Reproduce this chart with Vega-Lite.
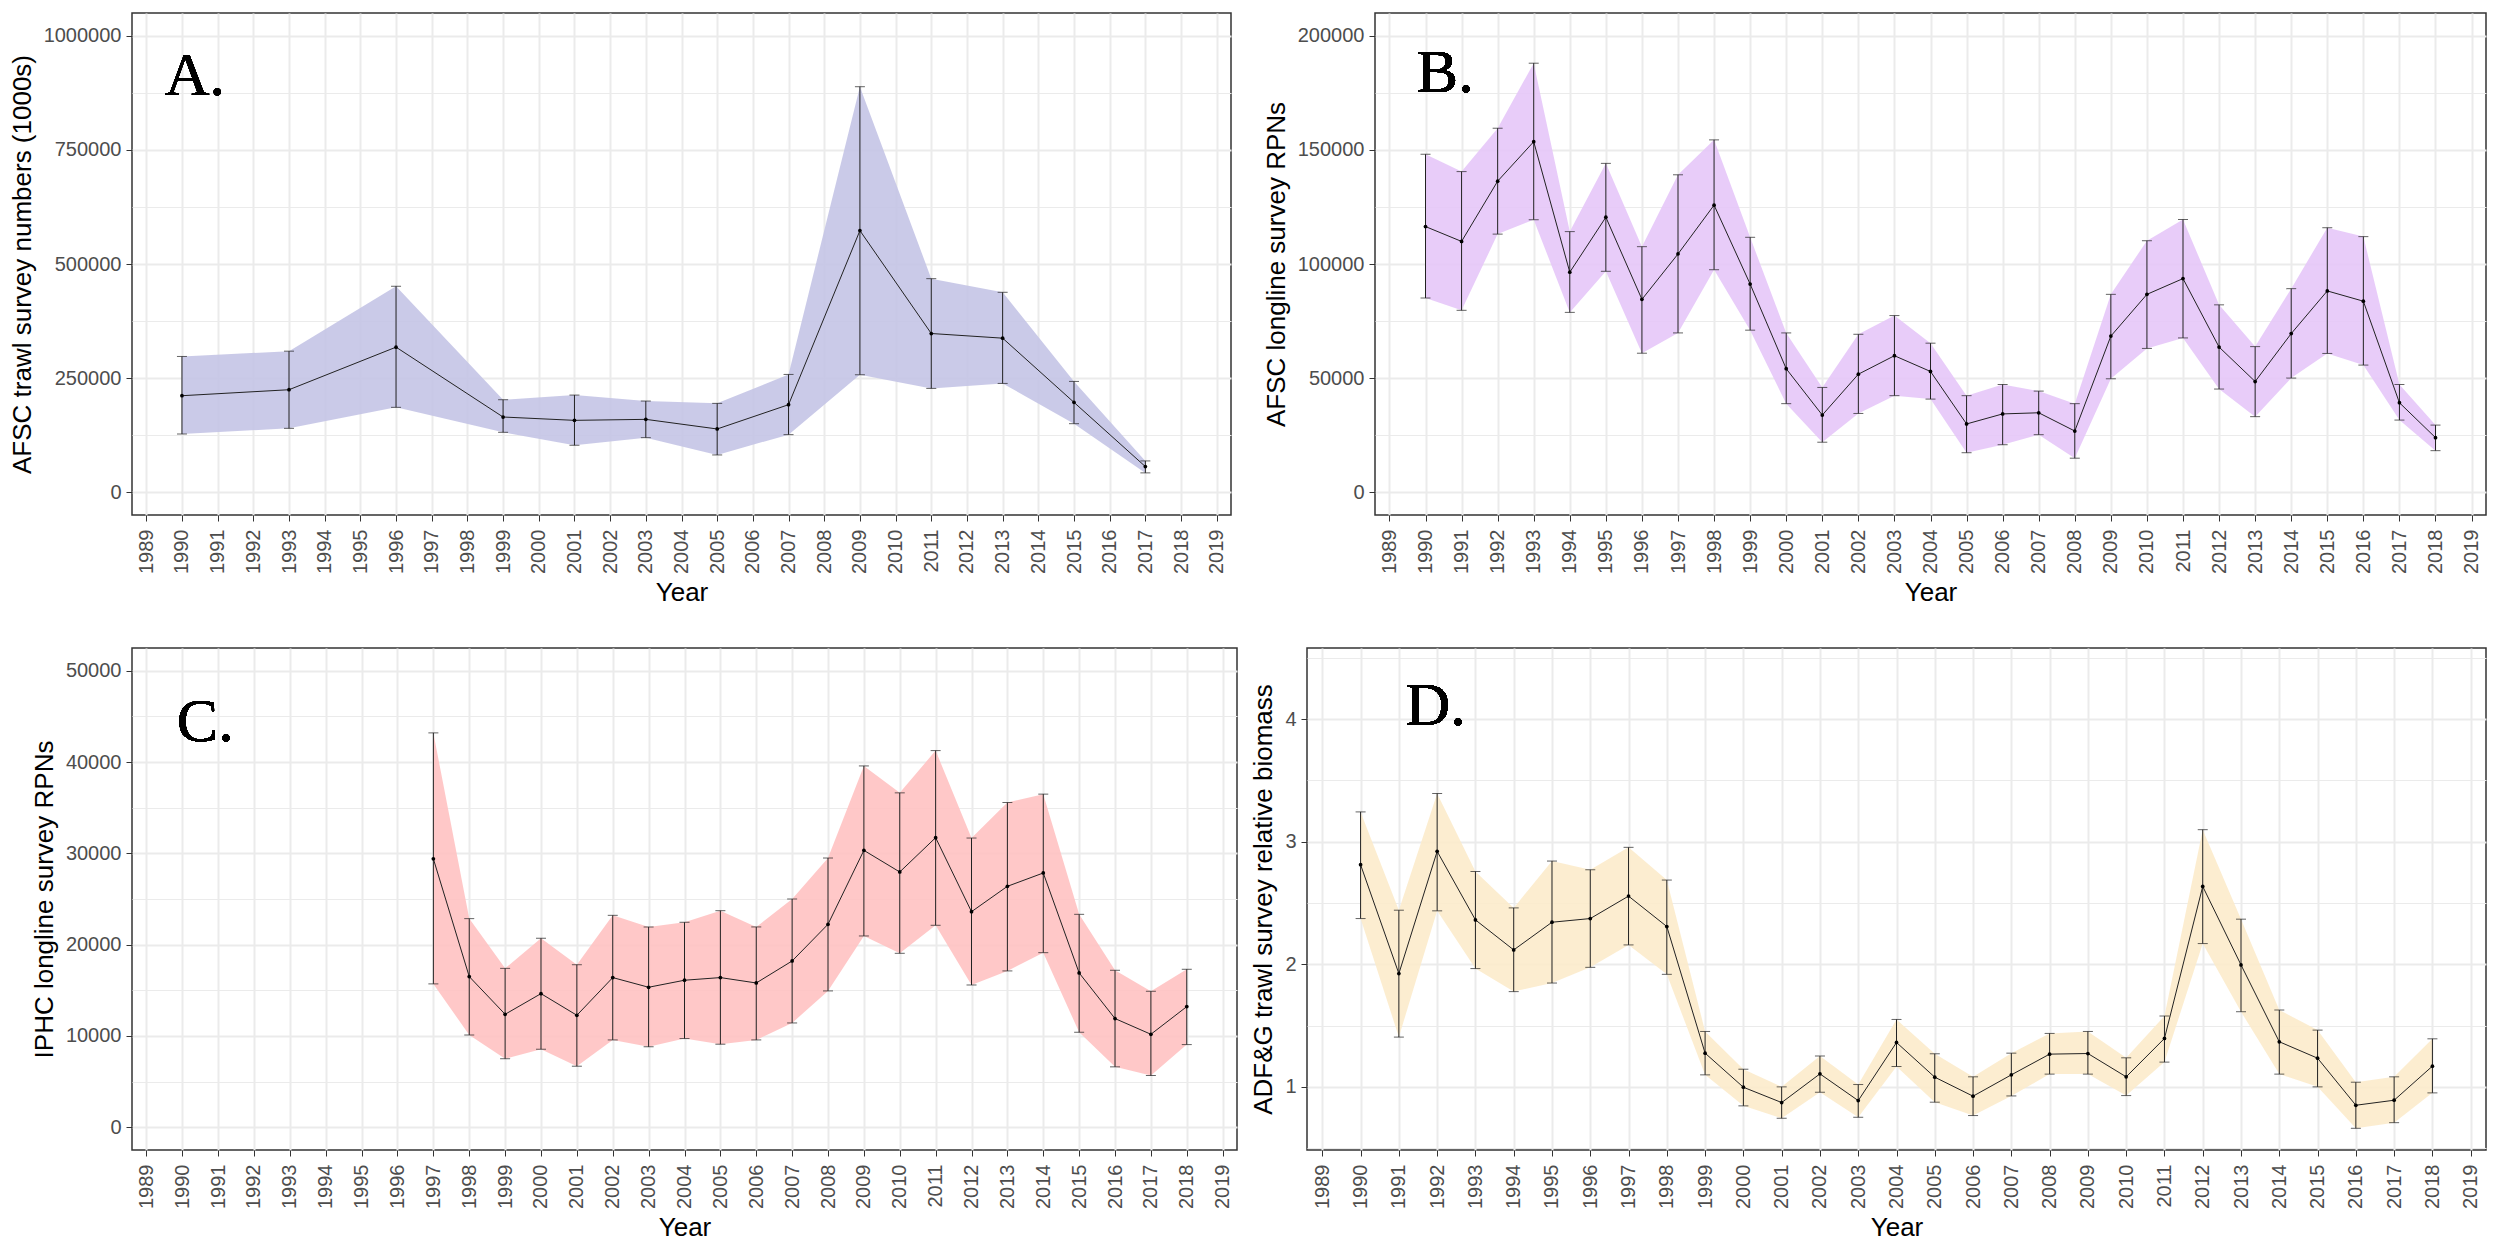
{
  "$schema": "https://vega.github.io/schema/vega-lite/v6.json",
  "background": "white",
  "padding": {"left": 8, "top": 12, "right": 5, "bottom": 5},
  "config": {
    "font": "Liberation Sans",
    "view": {"stroke": "#333333", "strokeWidth": 1.5},
    "axis": {"domain": false, "gridColor": "#EBEBEB", "tickColor": "#333333", "labelColor": "#4D4D4D", "labelFontSize": 20, "titleFontSize": 26, "titleFontWeight": "normal", "titleColor": "black", "tickSize": 6, "labelFont": "Liberation Sans", "titleFont": "Liberation Sans", "labelOverlap": false},
    "axisX": {"labelAngle": 270, "labelPadding": 8, "titlePadding": 6},
    "axisY": {"labelPadding": 5, "titlePadding": 8}
  },
  "datasets": {
    "d": [
      {"panel": "A", "year": 1990, "value": 211400, "lower": 127500, "upper": 297400},
      {"panel": "A", "year": 1993, "value": 224500, "lower": 139900, "upper": 309000},
      {"panel": "A", "year": 1996, "value": 317800, "lower": 185900, "upper": 451200},
      {"panel": "A", "year": 1999, "value": 164700, "lower": 131200, "upper": 202600},
      {"panel": "A", "year": 2001, "value": 157400, "lower": 102800, "upper": 212800},
      {"panel": "A", "year": 2003, "value": 159600, "lower": 119500, "upper": 199700},
      {"panel": "A", "year": 2005, "value": 138500, "lower": 81600, "upper": 194600},
      {"panel": "A", "year": 2007, "value": 191700, "lower": 126100, "upper": 258000},
      {"panel": "A", "year": 2009, "value": 573200, "lower": 257300, "upper": 888500},
      {"panel": "A", "year": 2011, "value": 347700, "lower": 227400, "upper": 467900},
      {"panel": "A", "year": 2013, "value": 337500, "lower": 238300, "upper": 438000},
      {"panel": "A", "year": 2015, "value": 196800, "lower": 150100, "upper": 242700},
      {"panel": "A", "year": 2017, "value": 56100, "lower": 42300, "upper": 68500},

      {"panel": "B", "year": 1990, "value": 116400, "lower": 85100, "upper": 148100},
      {"panel": "B", "year": 1991, "value": 109900, "lower": 79700, "upper": 140500},
      {"panel": "B", "year": 1992, "value": 136300, "lower": 113100, "upper": 159500},
      {"panel": "B", "year": 1993, "value": 153600, "lower": 119400, "upper": 188000},
      {"panel": "B", "year": 1994, "value": 96400, "lower": 78800, "upper": 114200},
      {"panel": "B", "year": 1995, "value": 120500, "lower": 96800, "upper": 144100},
      {"panel": "B", "year": 1996, "value": 84500, "lower": 60900, "upper": 107600},
      {"panel": "B", "year": 1997, "value": 104400, "lower": 69800, "upper": 139100},
      {"panel": "B", "year": 1998, "value": 125800, "lower": 97500, "upper": 154400},
      {"panel": "B", "year": 1999, "value": 91200, "lower": 71000, "upper": 111700},
      {"panel": "B", "year": 2000, "value": 54100, "lower": 38800, "upper": 69800},
      {"panel": "B", "year": 2001, "value": 33800, "lower": 21900, "upper": 45900},
      {"panel": "B", "year": 2002, "value": 51700, "lower": 34500, "upper": 69200},
      {"panel": "B", "year": 2003, "value": 59800, "lower": 42300, "upper": 77400},
      {"panel": "B", "year": 2004, "value": 52900, "lower": 40800, "upper": 65300},
      {"panel": "B", "year": 2005, "value": 29900, "lower": 17300, "upper": 42300},
      {"panel": "B", "year": 2006, "value": 34300, "lower": 20800, "upper": 47200},
      {"panel": "B", "year": 2007, "value": 34800, "lower": 25200, "upper": 44300},
      {"panel": "B", "year": 2008, "value": 26800, "lower": 14900, "upper": 38800},
      {"panel": "B", "year": 2009, "value": 68400, "lower": 49700, "upper": 86700},
      {"panel": "B", "year": 2010, "value": 86700, "lower": 63000, "upper": 110200},
      {"panel": "B", "year": 2011, "value": 93600, "lower": 67600, "upper": 119500},
      {"panel": "B", "year": 2012, "value": 63600, "lower": 45200, "upper": 82100},
      {"panel": "B", "year": 2013, "value": 48500, "lower": 33100, "upper": 63800},
      {"panel": "B", "year": 2014, "value": 69500, "lower": 50000, "upper": 89200},
      {"panel": "B", "year": 2015, "value": 88200, "lower": 60800, "upper": 115900},
      {"panel": "B", "year": 2016, "value": 83700, "lower": 55700, "upper": 112000},
      {"panel": "B", "year": 2017, "value": 39200, "lower": 31600, "upper": 47200},
      {"panel": "B", "year": 2018, "value": 23900, "lower": 18200, "upper": 29400},

      {"panel": "C", "year": 1997, "value": 29400, "lower": 15700, "upper": 43200},
      {"panel": "C", "year": 1998, "value": 16500, "lower": 10100, "upper": 22850},
      {"panel": "C", "year": 1999, "value": 12370, "lower": 7500, "upper": 17400},
      {"panel": "C", "year": 2000, "value": 14630, "lower": 8540, "upper": 20700},
      {"panel": "C", "year": 2001, "value": 12260, "lower": 6680, "upper": 17800},
      {"panel": "C", "year": 2002, "value": 16390, "lower": 9560, "upper": 23210},
      {"panel": "C", "year": 2003, "value": 15330, "lower": 8800, "upper": 21940},
      {"panel": "C", "year": 2004, "value": 16100, "lower": 9710, "upper": 22450},
      {"panel": "C", "year": 2005, "value": 16390, "lower": 9090, "upper": 23720},
      {"panel": "C", "year": 2006, "value": 15800, "lower": 9560, "upper": 21940},
      {"panel": "C", "year": 2007, "value": 18210, "lower": 11420, "upper": 25000},
      {"panel": "C", "year": 2008, "value": 22230, "lower": 14930, "upper": 29490},
      {"panel": "C", "year": 2009, "value": 30330, "lower": 20950, "upper": 39580},
      {"panel": "C", "year": 2010, "value": 27960, "lower": 19050, "upper": 36630},
      {"panel": "C", "year": 2011, "value": 31720, "lower": 22120, "upper": 41260},
      {"panel": "C", "year": 2012, "value": 23610, "lower": 15580, "upper": 31680},
      {"panel": "C", "year": 2013, "value": 26390, "lower": 17120, "upper": 35570},
      {"panel": "C", "year": 2014, "value": 27850, "lower": 19120, "upper": 36490},
      {"panel": "C", "year": 2015, "value": 16900, "lower": 10400, "upper": 23320},
      {"panel": "C", "year": 2016, "value": 11900, "lower": 6610, "upper": 17190},
      {"panel": "C", "year": 2017, "value": 10180, "lower": 5660, "upper": 14890},
      {"panel": "C", "year": 2018, "value": 13210, "lower": 9050, "upper": 17300},

      {"panel": "D", "year": 1990, "value": 2.812, "lower": 2.373, "upper": 3.243},
      {"panel": "D", "year": 1991, "value": 1.924, "lower": 1.406, "upper": 2.441},
      {"panel": "D", "year": 1992, "value": 2.921, "lower": 2.436, "upper": 3.393},
      {"panel": "D", "year": 1993, "value": 2.362, "lower": 1.965, "upper": 2.757},
      {"panel": "D", "year": 1994, "value": 2.117, "lower": 1.777, "upper": 2.46},
      {"panel": "D", "year": 1995, "value": 2.343, "lower": 1.847, "upper": 2.842},
      {"panel": "D", "year": 1996, "value": 2.373, "lower": 1.975, "upper": 2.771},
      {"panel": "D", "year": 1997, "value": 2.556, "lower": 2.158, "upper": 2.954},
      {"panel": "D", "year": 1998, "value": 2.308, "lower": 1.918, "upper": 2.687},
      {"panel": "D", "year": 1999, "value": 1.275, "lower": 1.098, "upper": 1.452},
      {"panel": "D", "year": 2000, "value": 0.997, "lower": 0.845, "upper": 1.144},
      {"panel": "D", "year": 2001, "value": 0.872, "lower": 0.744, "upper": 1.0},
      {"panel": "D", "year": 2002, "value": 1.106, "lower": 0.956, "upper": 1.251},
      {"panel": "D", "year": 2003, "value": 0.888, "lower": 0.752, "upper": 1.019},
      {"panel": "D", "year": 2004, "value": 1.362, "lower": 1.166, "upper": 1.55},
      {"panel": "D", "year": 2005, "value": 1.079, "lower": 0.875, "upper": 1.27},
      {"panel": "D", "year": 2006, "value": 0.924, "lower": 0.766, "upper": 1.082},
      {"panel": "D", "year": 2007, "value": 1.098, "lower": 0.926, "upper": 1.275},
      {"panel": "D", "year": 2008, "value": 1.267, "lower": 1.104, "upper": 1.436},
      {"panel": "D", "year": 2009, "value": 1.272, "lower": 1.104, "upper": 1.452},
      {"panel": "D", "year": 2010, "value": 1.082, "lower": 0.929, "upper": 1.237},
      {"panel": "D", "year": 2011, "value": 1.395, "lower": 1.202, "upper": 1.578},
      {"panel": "D", "year": 2012, "value": 2.635, "lower": 2.169, "upper": 3.098},
      {"panel": "D", "year": 2013, "value": 1.995, "lower": 1.613, "upper": 2.368},
      {"panel": "D", "year": 2014, "value": 1.368, "lower": 1.104, "upper": 1.627},
      {"panel": "D", "year": 2015, "value": 1.234, "lower": 1.0, "upper": 1.463},
      {"panel": "D", "year": 2016, "value": 0.85, "lower": 0.662, "upper": 1.038},
      {"panel": "D", "year": 2017, "value": 0.891, "lower": 0.708, "upper": 1.082},
      {"panel": "D", "year": 2018, "value": 1.169, "lower": 0.951, "upper": 1.392}
    ]
  },
  "spacing": 40,
  "vconcat": [
    {
      "spacing": 30,
      "hconcat": [
        {
          "width": 1099, "height": 502,
          "data": {"name": "d"},
          "transform": [{"filter": "datum.panel === 'A'"}],
          "encoding": {
            "x": {"field": "year", "type": "quantitative", "title": "Year",
              "scale": {"domain": [1988.6, 2019.4], "nice": false, "zero": false},
              "axis": {"format": "d", "values": [1989,1989.5,1990,1990.5,1991,1991.5,1992,1992.5,1993,1993.5,1994,1994.5,1995,1995.5,1996,1996.5,1997,1997.5,1998,1998.5,1999,1999.5,2000,2000.5,2001,2001.5,2002,2002.5,2003,2003.5,2004,2004.5,2005,2005.5,2006,2006.5,2007,2007.5,2008,2008.5,2009,2009.5,2010,2010.5,2011,2011.5,2012,2012.5,2013,2013.5,2014,2014.5,2015,2015.5,2016,2016.5,2017,2017.5,2018,2018.5,2019],
                "labelExpr": "datum.value % 1 === 0 ? datum.label : ''",
                "gridWidth": {"condition": {"test": "datum.value % 1 !== 0", "value": 1}, "value": 2},
                "tickOpacity": {"condition": {"test": "datum.value % 1 !== 0", "value": 0}, "value": 1}}}
          },
          "layer": [
            {"mark": {"type": "area", "color": "#c4c4e6", "opacity": 0.9},
             "encoding": {
               "y": {"field": "lower", "type": "quantitative", "title": "AFSC trawl survey numbers (1000s)",
                 "scale": {"domain": [-50000, 1050000], "nice": false, "zero": false},
                 "axis": {"format": "d", "values": [0,125000,250000,375000,500000,625000,750000,875000,1000000],
                   "labelExpr": "datum.value % 250000 === 0 ? datum.label : ''",
                   "gridWidth": {"condition": {"test": "datum.value % 250000 !== 0", "value": 1}, "value": 2},
                   "tickOpacity": {"condition": {"test": "datum.value % 250000 !== 0", "value": 0}, "value": 1}}},
               "y2": {"field": "upper"}}},
            {"mark": {"type": "errorbar", "color": "#222222", "thickness": 1, "ticks": {"size": 10}},
             "encoding": {"y": {"field": "lower", "type": "quantitative", "title": "AFSC trawl survey numbers (1000s)"}, "y2": {"field": "upper"}}},
            {"mark": {"type": "line", "color": "#222222", "strokeWidth": 1},
             "encoding": {"y": {"field": "value", "type": "quantitative", "title": "AFSC trawl survey numbers (1000s)"}}},
            {"mark": {"type": "point", "filled": true, "color": "black", "size": 14, "opacity": 1},
             "encoding": {"y": {"field": "value", "type": "quantitative", "title": "AFSC trawl survey numbers (1000s)"}}},
            {"mark": {"type": "text", "font": "Liberation Serif", "fontSize": 62, "align": "left", "baseline": "alphabetic", "color": "black"},
             "encoding": {"x": {"datum": 1989.52}, "y": {"datum": 870900}, "text": {"value": "A."}}}
          ]
        },
        {
          "width": 1111, "height": 502,
          "data": {"name": "d"},
          "transform": [{"filter": "datum.panel === 'B'"}],
          "encoding": {
            "x": {"field": "year", "type": "quantitative", "title": "Year",
              "scale": {"domain": [1988.6, 2019.4], "nice": false, "zero": false},
              "axis": {"format": "d", "values": [1989,1989.5,1990,1990.5,1991,1991.5,1992,1992.5,1993,1993.5,1994,1994.5,1995,1995.5,1996,1996.5,1997,1997.5,1998,1998.5,1999,1999.5,2000,2000.5,2001,2001.5,2002,2002.5,2003,2003.5,2004,2004.5,2005,2005.5,2006,2006.5,2007,2007.5,2008,2008.5,2009,2009.5,2010,2010.5,2011,2011.5,2012,2012.5,2013,2013.5,2014,2014.5,2015,2015.5,2016,2016.5,2017,2017.5,2018,2018.5,2019],
                "labelExpr": "datum.value % 1 === 0 ? datum.label : ''",
                "gridWidth": {"condition": {"test": "datum.value % 1 !== 0", "value": 1}, "value": 2},
                "tickOpacity": {"condition": {"test": "datum.value % 1 !== 0", "value": 0}, "value": 1}}}
          },
          "layer": [
            {"mark": {"type": "area", "color": "#e6c6f8", "opacity": 0.9},
             "encoding": {
               "y": {"field": "lower", "type": "quantitative", "title": "AFSC longline survey RPNs",
                 "scale": {"domain": [-10000, 210000], "nice": false, "zero": false},
                 "axis": {"format": "d", "values": [0,25000,50000,75000,100000,125000,150000,175000,200000],
                   "labelExpr": "datum.value % 50000 === 0 ? datum.label : ''",
                   "gridWidth": {"condition": {"test": "datum.value % 50000 !== 0", "value": 1}, "value": 2},
                   "tickOpacity": {"condition": {"test": "datum.value % 50000 !== 0", "value": 0}, "value": 1}}},
               "y2": {"field": "upper"}}},
            {"mark": {"type": "errorbar", "color": "#222222", "thickness": 1, "ticks": {"size": 10}},
             "encoding": {"y": {"field": "lower", "type": "quantitative", "title": "AFSC longline survey RPNs"}, "y2": {"field": "upper"}}},
            {"mark": {"type": "line", "color": "#222222", "strokeWidth": 1},
             "encoding": {"y": {"field": "value", "type": "quantitative", "title": "AFSC longline survey RPNs"}}},
            {"mark": {"type": "point", "filled": true, "color": "black", "size": 14, "opacity": 1},
             "encoding": {"y": {"field": "value", "type": "quantitative", "title": "AFSC longline survey RPNs"}}},
            {"mark": {"type": "text", "font": "Liberation Serif", "fontSize": 62, "align": "left", "baseline": "alphabetic", "color": "black"},
             "encoding": {"x": {"datum": 1989.76}, "y": {"datum": 175500}, "text": {"value": "B."}}}
          ]
        }
      ]
    },
    {
      "spacing": 12,
      "hconcat": [
        {
          "width": 1105, "height": 502,
          "data": {"name": "d"},
          "transform": [{"filter": "datum.panel === 'C'"}],
          "encoding": {
            "x": {"field": "year", "type": "quantitative", "title": "Year",
              "scale": {"domain": [1988.6, 2019.4], "nice": false, "zero": false},
              "axis": {"format": "d", "values": [1989,1989.5,1990,1990.5,1991,1991.5,1992,1992.5,1993,1993.5,1994,1994.5,1995,1995.5,1996,1996.5,1997,1997.5,1998,1998.5,1999,1999.5,2000,2000.5,2001,2001.5,2002,2002.5,2003,2003.5,2004,2004.5,2005,2005.5,2006,2006.5,2007,2007.5,2008,2008.5,2009,2009.5,2010,2010.5,2011,2011.5,2012,2012.5,2013,2013.5,2014,2014.5,2015,2015.5,2016,2016.5,2017,2017.5,2018,2018.5,2019],
                "labelExpr": "datum.value % 1 === 0 ? datum.label : ''",
                "gridWidth": {"condition": {"test": "datum.value % 1 !== 0", "value": 1}, "value": 2},
                "tickOpacity": {"condition": {"test": "datum.value % 1 !== 0", "value": 0}, "value": 1}}}
          },
          "layer": [
            {"mark": {"type": "area", "color": "#ffc2c2", "opacity": 0.9},
             "encoding": {
               "y": {"field": "lower", "type": "quantitative", "title": "IPHC longline survey RPNs",
                 "scale": {"domain": [-2500, 52500], "nice": false, "zero": false},
                 "axis": {"format": "d", "values": [0,5000,10000,15000,20000,25000,30000,35000,40000,45000,50000],
                   "labelExpr": "datum.value % 10000 === 0 ? datum.label : ''",
                   "gridWidth": {"condition": {"test": "datum.value % 10000 !== 0", "value": 1}, "value": 2},
                   "tickOpacity": {"condition": {"test": "datum.value % 10000 !== 0", "value": 0}, "value": 1}}},
               "y2": {"field": "upper"}}},
            {"mark": {"type": "errorbar", "color": "#222222", "thickness": 1, "ticks": {"size": 10}},
             "encoding": {"y": {"field": "lower", "type": "quantitative", "title": "IPHC longline survey RPNs"}, "y2": {"field": "upper"}}},
            {"mark": {"type": "line", "color": "#222222", "strokeWidth": 1},
             "encoding": {"y": {"field": "value", "type": "quantitative", "title": "IPHC longline survey RPNs"}}},
            {"mark": {"type": "point", "filled": true, "color": "black", "size": 14, "opacity": 1},
             "encoding": {"y": {"field": "value", "type": "quantitative", "title": "IPHC longline survey RPNs"}}},
            {"mark": {"type": "text", "font": "Liberation Serif", "fontSize": 62, "align": "left", "baseline": "alphabetic", "color": "black"},
             "encoding": {"x": {"datum": 1989.85}, "y": {"datum": 42300}, "text": {"value": "C."}}}
          ]
        },
        {
          "width": 1179, "height": 502,
          "data": {"name": "d"},
          "transform": [{"filter": "datum.panel === 'D'"}],
          "encoding": {
            "x": {"field": "year", "type": "quantitative", "title": "Year",
              "scale": {"domain": [1988.6, 2019.4], "nice": false, "zero": false},
              "axis": {"format": "d", "values": [1989,1989.5,1990,1990.5,1991,1991.5,1992,1992.5,1993,1993.5,1994,1994.5,1995,1995.5,1996,1996.5,1997,1997.5,1998,1998.5,1999,1999.5,2000,2000.5,2001,2001.5,2002,2002.5,2003,2003.5,2004,2004.5,2005,2005.5,2006,2006.5,2007,2007.5,2008,2008.5,2009,2009.5,2010,2010.5,2011,2011.5,2012,2012.5,2013,2013.5,2014,2014.5,2015,2015.5,2016,2016.5,2017,2017.5,2018,2018.5,2019],
                "labelExpr": "datum.value % 1 === 0 ? datum.label : ''",
                "gridWidth": {"condition": {"test": "datum.value % 1 !== 0", "value": 1}, "value": 2},
                "tickOpacity": {"condition": {"test": "datum.value % 1 !== 0", "value": 0}, "value": 1}}}
          },
          "layer": [
            {"mark": {"type": "area", "color": "#fcebcb", "opacity": 0.9},
             "encoding": {
               "y": {"field": "lower", "type": "quantitative", "title": "ADF&G trawl survey relative biomass",
                 "scale": {"domain": [0.485, 4.58], "nice": false, "zero": false},
                 "axis": {"values": [0.5,1,1.5,2,2.5,3,3.5,4,4.5],
                   "labelExpr": "datum.value % 1 === 0 ? format(datum.value, 'd') : ''",
                   "gridWidth": {"condition": {"test": "datum.value % 1 !== 0", "value": 1}, "value": 2},
                   "tickOpacity": {"condition": {"test": "datum.value % 1 !== 0", "value": 0}, "value": 1}}},
               "y2": {"field": "upper"}}},
            {"mark": {"type": "errorbar", "color": "#222222", "thickness": 1, "ticks": {"size": 10}},
             "encoding": {"y": {"field": "lower", "type": "quantitative", "title": "ADF&G trawl survey relative biomass"}, "y2": {"field": "upper"}}},
            {"mark": {"type": "line", "color": "#222222", "strokeWidth": 1},
             "encoding": {"y": {"field": "value", "type": "quantitative", "title": "ADF&G trawl survey relative biomass"}}},
            {"mark": {"type": "point", "filled": true, "color": "black", "size": 14, "opacity": 1},
             "encoding": {"y": {"field": "value", "type": "quantitative", "title": "ADF&G trawl survey relative biomass"}}},
            {"mark": {"type": "text", "font": "Liberation Serif", "fontSize": 62, "align": "left", "baseline": "alphabetic", "color": "black"},
             "encoding": {"x": {"datum": 1991.17}, "y": {"datum": 3.954}, "text": {"value": "D."}}}
          ]
        }
      ]
    }
  ]
}
